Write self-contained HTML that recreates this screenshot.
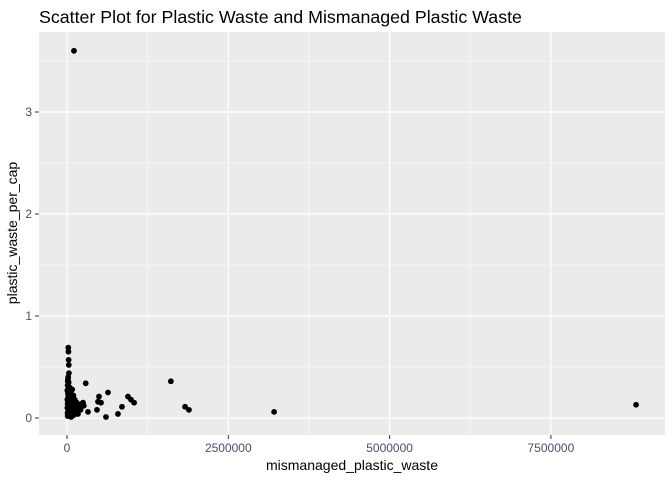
<!DOCTYPE html>
<html><head><meta charset="utf-8"><style>
body{margin:0;background:#fff;font-family:"Liberation Sans",sans-serif}
</style></head><body>
<svg id="chart" width="672" height="480" xmlns="http://www.w3.org/2000/svg">
<text x="39" y="23" font-size="17.8" fill="#000">Scatter Plot for Plastic Waste and Mismanaged Plastic Waste</text>
<rect x="39" y="32" width="626" height="403" fill="#ebebeb"/>
<g id="grid"></g><g id="pts"></g><g id="axes"></g>
<text x="352" y="470" font-size="14" text-anchor="middle" fill="#000">mismanaged_plastic_waste</text>
<text transform="translate(17,233) rotate(-90)" font-size="14" text-anchor="middle" fill="#000">plastic_waste_per_cap</text>
</svg>
<script>
const xVals=[108000,1610000,1830000,1890000,3210000,8820000,290000,635000,496000,480000,527000,465000,604000,790000,852000,945000,992000,1040000,325000,248000,
20000,22000,25000,28000,30000,18000,20000,22000,25000,15000,20000,25000,30000,20000,15000,40000,60000,80000,100000,120000,150000,180000,200000,230000,260000,50000,70000,90000,110000,140000,170000,10000,5000,30000,45000,60000,75000,35000,55000,95000,130000,160000,210000,8000,12000,40000,65000,
10000,15000,25000,35000,45000,55000,5000,10000,20000,30000,40000,50000,60000,70000,80000,15000,25000,35000,45000,55000,65000,85000,100000,120000,140000,30000,50000,70000,90000,110000,15000,25000,40000,60000,80000,5000,35000,75000,105000,125000];
const yVals=[3.6,0.36,0.11,0.08,0.06,0.13,0.34,0.25,0.21,0.16,0.15,0.08,0.01,0.04,0.11,0.21,0.18,0.15,0.06,0.15,
0.69,0.65,0.57,0.52,0.44,0.40,0.34,0.30,0.27,0.24,0.21,0.18,0.15,0.12,0.09,0.06,0.03,0.28,0.22,0.18,0.15,0.13,0.11,0.14,0.12,0.10,0.08,0.05,0.03,0.07,0.04,0.02,0.10,0.05,0.20,0.25,0.17,0.12,0.09,0.06,0.15,0.10,0.08,0.05,0.36,0.30,0.01,
0.32,0.26,0.22,0.19,0.16,0.13,0.18,0.14,0.11,0.08,0.06,0.04,0.02,0.19,0.16,0.02,0.03,0.12,0.10,0.07,0.05,0.14,0.17,0.10,0.12,0.23,0.20,0.12,0.09,0.06,0.38,0.35,0.29,0.16,0.07,0.27,0.24,0.18,0.13,0.09];
const xTicks=[0,2500000,5000000,7500000];
const yTicks=[0,1,2,3];
const xs=v=>67+v*161.3/2500000, ys=v=>418-v*102;
const NS="http://www.w3.org/2000/svg";
function mk(t,a,p){const e=document.createElementNS(NS,t);for(const k in a)e.setAttribute(k,a[k]);p.appendChild(e);return e;}
const grid=document.getElementById('grid'),axes=document.getElementById('axes'),pts=document.getElementById('pts');
const xMinor=[1250000,3750000,6250000],yMinor=[0.5,1.5,2.5,3.5];
xMinor.forEach(v=>{const l=mk('line',{x1:xs(v),x2:xs(v),y1:32,y2:435,stroke:'#fff','stroke-width':0.6},grid);

});
yMinor.forEach(v=>{const l=mk('line',{x1:39,x2:665,y1:ys(v),y2:ys(v),stroke:'#fff','stroke-width':0.6},grid);

});
xTicks.forEach(v=>{const l=mk('line',{x1:xs(v),x2:xs(v),y1:32,y2:435,stroke:'#fff','stroke-width':1.2},grid);


mk('line',{x1:xs(v),x2:xs(v),y1:435,y2:439,stroke:'#333'},axes);
const t=mk('text',{x:xs(v),y:452,'font-size':12,'text-anchor':'middle',fill:'#4d4d6d'},axes);t.textContent=String(v);

});
yTicks.forEach(v=>{const l=mk('line',{x1:39,x2:665,y1:ys(v),y2:ys(v),stroke:'#fff','stroke-width':1.2},grid);


mk('line',{x1:35,x2:39,y1:ys(v),y2:ys(v),stroke:'#333'},axes);
const t=mk('text',{x:32,y:ys(v)+4,'font-size':12,'text-anchor':'end',fill:'#4d4d6d'},axes);t.textContent=String(v);

});
xVals.forEach((x,i)=>{const c=mk('circle',{cx:xs(x),cy:ys(yVals[i]),r:2.9,fill:'#000'},pts);

});
</script>
</body></html>
